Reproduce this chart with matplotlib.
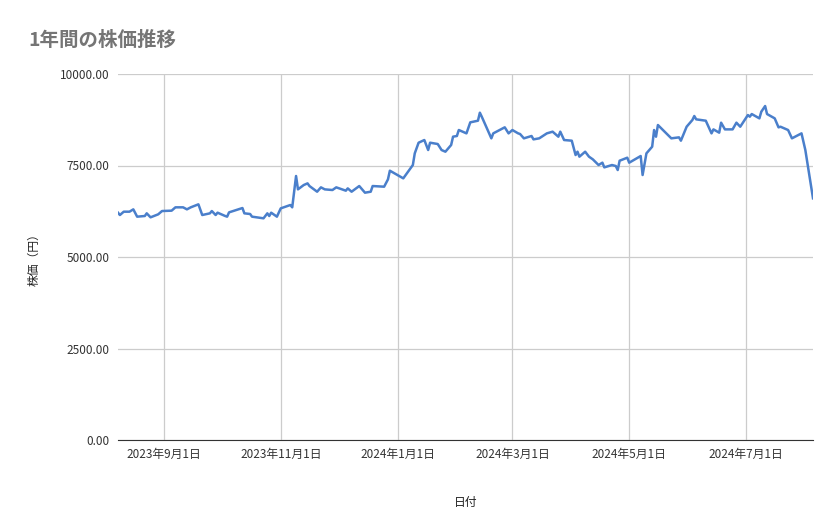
import matplotlib
matplotlib.use("Agg")
import matplotlib.pyplot as plt
import matplotlib.dates as mdates
import pandas as pd

plt.rcParams["font.family"] = ["Noto Sans CJK JP", "DejaVu Sans"]

dates = [
    "2023-08-08", "2023-08-09", "2023-08-11", "2023-08-14", "2023-08-16", "2023-08-18",
    "2023-08-22", "2023-08-23", "2023-08-25", "2023-08-29", "2023-08-31", "2023-09-05",
    "2023-09-07", "2023-09-11", "2023-09-13", "2023-09-15", "2023-09-19", "2023-09-21",
    "2023-09-25", "2023-09-26", "2023-09-28", "2023-09-29", "2023-10-03", "2023-10-04",
    "2023-10-05", "2023-10-12", "2023-10-13", "2023-10-16", "2023-10-17", "2023-10-23",
    "2023-10-25", "2023-10-26", "2023-10-27", "2023-10-30", "2023-11-01", "2023-11-06",
    "2023-11-07", "2023-11-09", "2023-11-10", "2023-11-13", "2023-11-15", "2023-11-16",
    "2023-11-20", "2023-11-22", "2023-11-24", "2023-11-28", "2023-11-30", "2023-12-05",
    "2023-12-06", "2023-12-08", "2023-12-12", "2023-12-15", "2023-12-18", "2023-12-19",
    "2023-12-25", "2023-12-27", "2023-12-28", "2024-01-04", "2024-01-09", "2024-01-10",
    "2024-01-12", "2024-01-15", "2024-01-17", "2024-01-18", "2024-01-22", "2024-01-24",
    "2024-01-26", "2024-01-29", "2024-01-30", "2024-02-01", "2024-02-02", "2024-02-06",
    "2024-02-08", "2024-02-12", "2024-02-13", "2024-02-14", "2024-02-19", "2024-02-20",
    "2024-02-26", "2024-02-28", "2024-03-01", "2024-03-04", "2024-03-05", "2024-03-07",
    "2024-03-11", "2024-03-12", "2024-03-15", "2024-03-19", "2024-03-22", "2024-03-25",
    "2024-03-26", "2024-03-28", "2024-04-01", "2024-04-03", "2024-04-04", "2024-04-05",
    "2024-04-08", "2024-04-10", "2024-04-12", "2024-04-15", "2024-04-17", "2024-04-18",
    "2024-04-22", "2024-04-24", "2024-04-25", "2024-04-26", "2024-04-30", "2024-05-01",
    "2024-05-07", "2024-05-08", "2024-05-10", "2024-05-13", "2024-05-14", "2024-05-15",
    "2024-05-16", "2024-05-20", "2024-05-23", "2024-05-27", "2024-05-28", "2024-05-31",
    "2024-06-03", "2024-06-04", "2024-06-05", "2024-06-10", "2024-06-13", "2024-06-14",
    "2024-06-17", "2024-06-18", "2024-06-20", "2024-06-24", "2024-06-26", "2024-06-28",
    "2024-07-02", "2024-07-03", "2024-07-04", "2024-07-08", "2024-07-09", "2024-07-11",
    "2024-07-12", "2024-07-16", "2024-07-18", "2024-07-19", "2024-07-23", "2024-07-25",
    "2024-07-30", "2024-08-01", "2024-08-05",
]
prices = [
    6210, 6147, 6238, 6238, 6302, 6102,
    6120, 6193, 6084, 6166, 6256, 6266,
    6357, 6357, 6302, 6357, 6439, 6147,
    6193, 6256, 6147, 6211, 6120, 6102,
    6220, 6338, 6193, 6175, 6102, 6057,
    6193, 6120, 6211, 6102, 6329, 6420,
    6357, 7213, 6848, 6966, 7012, 6939,
    6784, 6903, 6848, 6830, 6903, 6812,
    6875, 6784, 6939, 6757, 6784, 6939,
    6921, 7121, 7358, 7149, 7513, 7832,
    8123, 8196, 7923, 8123, 8087, 7923,
    7877, 8060, 8288, 8306, 8470, 8378,
    8679, 8724, 8943, 8833, 8242, 8378,
    8543, 8378, 8469, 8378, 8360, 8242,
    8306, 8214, 8242, 8378, 8424, 8287,
    8424, 8196, 8178, 7786, 7877, 7741,
    7877, 7741, 7668, 7513, 7577, 7449,
    7513, 7486, 7376, 7631, 7713, 7577,
    7759, 7240, 7832, 8014, 8469, 8287,
    8606, 8397, 8242, 8269, 8178, 8560,
    8743, 8852, 8761, 8724, 8378, 8487,
    8397, 8670, 8487, 8487, 8670, 8560,
    8879, 8833, 8906, 8788, 8970, 9125,
    8906, 8788, 8542, 8560, 8469, 8242,
    8378, 7923, 6603,
]
tick_dates = ["2023-09-01", "2023-11-01", "2024-01-01", "2024-03-01", "2024-05-01", "2024-07-01"]
tick_labels = ["2023年9月1日", "2023年11月1日", "2024年1月1日", "2024年3月1日", "2024年5月1日", "2024年7月1日"]

x = pd.to_datetime(dates)

fig = plt.figure(figsize=(8.39, 5.19), dpi=100)
ax = fig.add_axes([118 / 839, 1 - 440 / 519, (813 - 118) / 839, (440 - 74) / 519])

ax.plot(x, prices, color="#4a7fcb", linewidth=1.8)

ax.set_xlim(x[0], x[-1])
ax.set_ylim(0, 10000)
ax.set_yticks([0, 2500, 5000, 7500, 10000])
ax.set_yticklabels([f"{v:.2f}" for v in [0, 2500, 5000, 7500, 10000]])
ax.set_xticks(pd.to_datetime(tick_dates))
ax.set_xticklabels(tick_labels)
ax.tick_params(length=0, labelsize=8.5, colors="#333333", pad=6)
ax.grid(True, color="#cccccc", linewidth=0.9)
ax.set_axisbelow(True)
for s in ["top", "right", "left"]:
    ax.spines[s].set_visible(False)
ax.spines["bottom"].set_color("#333333")

ax.set_xlabel("日付", fontsize=8.5, color="#222222", labelpad=25)
ax.set_ylabel("株価（円）", fontsize=8.5, color="#222222", labelpad=14)
fig.text(28 / 839, 1 - 40 / 519, "1年間の株価推移", fontsize=14, color="#757575",
         fontweight="bold", va="center")

fig.savefig("out.png", dpi=100, facecolor="white")
